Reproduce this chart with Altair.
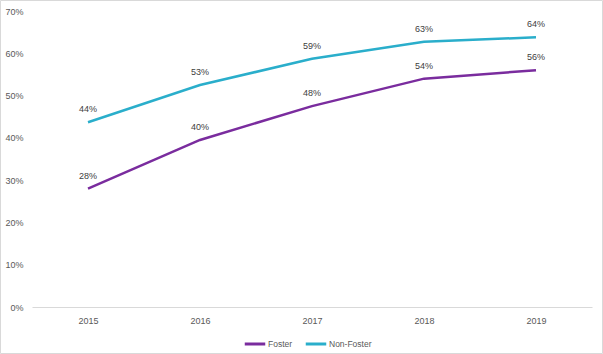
import altair as alt
import pandas as pd

years = ["2015", "2016", "2017", "2018", "2019"]
foster = [0.28, 0.395, 0.475, 0.54, 0.56]
non_foster = [0.437, 0.525, 0.587, 0.627, 0.638]
series = ["Foster", "Non-Foster"]
colors = ["#7A2C9E", "#2AAECB"]

rows = []
for y, v in zip(years, foster):
    rows.append({"year": y, "value": v, "series": "Foster"})
for y, v in zip(years, non_foster):
    rows.append({"year": y, "value": v, "series": "Non-Foster"})
df = pd.DataFrame(rows)

FONT = "Liberation Sans"
TXT = "#595959"

x = alt.X("year:N", scale=alt.Scale(type="point", padding=0.5),
          axis=alt.Axis(title=None, labelAngle=0, ticks=False, grid=False, domain=True,
                        domainColor="#D9D9D9", domainWidth=1, labelPadding=9, labelFontSize=9,
                        labelColor=TXT, labelFont=FONT))
y = alt.Y("value:Q", scale=alt.Scale(domain=[0, 0.7]),
          axis=alt.Axis(title=None, format=".0%", values=[0, .1, .2, .3, .4, .5, .6, .7],
                        domain=False, ticks=False, grid=False, labelPadding=9,
                        labelFontSize=9, labelColor=TXT, labelFont=FONT))
color = alt.Color("series:N", scale=alt.Scale(domain=series, range=colors),
                  legend=alt.Legend(title=None, orient="none", direction="horizontal",
                                    legendX=211, legendY=321, symbolType="stroke",
                                    symbolStrokeWidth=3, symbolSize=420, labelFontSize=8.5,
                                    labelColor=TXT, labelFont=FONT, columnPadding=6,
                                    labelOffset=1))

base = alt.Chart(df)
lines = base.mark_line(strokeWidth=2.5).encode(x=x, y=y, color=color)
labels = base.mark_text(baseline="bottom", dy=-8, fontSize=9, color="#404040", font=FONT).encode(
    x=x, y=y, text=alt.Text("value:Q", format=".0%"))

border = alt.Chart(pd.DataFrame({"a": [0]})).mark_rect(
    fill="transparent", stroke="#D9D9D9", strokeWidth=1, clip=False).encode(
    x=alt.value(-31.5), x2=alt.value(570.5), y=alt.value(-10.5), y2=alt.value(342.5))

chart = alt.layer(border, lines, labels).properties(
    width=560, height=296,
    background="white",
    padding={"left": 32, "top": 11, "right": 11, "bottom": 47},
    autosize=alt.AutoSizeParams(type="none"),
).configure_view(stroke="transparent", strokeWidth=0)

chart.save("out.html", embed_options={"renderer": "svg", "actions": False})
